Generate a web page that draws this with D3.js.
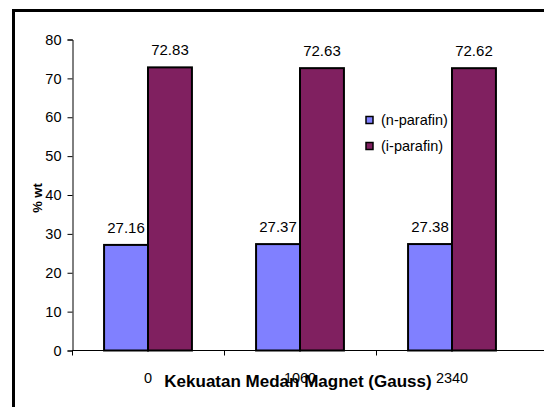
<!DOCTYPE html>
<html><head><meta charset="utf-8">
<script src="https://cdn.jsdelivr.net/npm/d3@7"></script>
<style>html,body{margin:0;padding:0;background:#fff;overflow:hidden}svg{display:block}</style>
</head><body>
<svg id="c" width="544" height="407"></svg>
<script>
const categories = ["0", "1060", "2340"];
const seriesNames = ["(n-parafin)", "(i-parafin)"];
const nParafin = [27.16, 27.37, 27.38];
const iParafin = [72.83, 72.63, 72.62];
const yTicks = [0, 10, 20, 30, 40, 50, 60, 70, 80];
const colors = ["#8080FF", "#802060"];
const series = [nParafin, iParafin];

const svg = d3.select("#c");
const font = "Arial, 'Liberation Sans', sans-serif";

// chart border (cropped)
svg.append("rect").attr("x", 13.5).attr("y", 10.5).attr("width", 700).attr("height", 600)
  .attr("fill", "#fff").attr("stroke", "#000").attr("stroke-width", 3);

const x = d3.scaleBand().domain(categories).range([72, 528]).paddingInner(0).paddingOuter(0);
const y = d3.scaleLinear().domain([0, 80]).range([350.5, 39.5]);
const xs = d3.scaleBand().domain(d3.range(series.length)).range([0, x.bandwidth()]).paddingInner(0).paddingOuter(0.73);

// bars
series.forEach((vals, si) => {
  const g = svg.append("g");
  g.selectAll("rect").data(vals).join("rect")
    .attr("x", (d, i) => x(categories[i]) + xs(si))
    .attr("y", d => y(d))
    .attr("width", xs.bandwidth())
    .attr("height", d => y(0) - y(d))
    .attr("fill", colors[si]).attr("stroke", "#000").attr("stroke-width", 2);
  g.selectAll("text").data(vals).join("text")
    .attr("x", (d, i) => x(categories[i]) + xs(si) + xs.bandwidth() / 2)
    .attr("y", d => y(d) - 12)
    .attr("text-anchor", "middle").attr("font-family", font).attr("font-size", 15)
    .attr("fill", "#000").text(d => d.toFixed(2));
});

// y axis
const ya = svg.append("g").attr("transform", "translate(72.5,0)")
  .call(d3.axisLeft(y).tickValues(yTicks).tickSize(5).tickPadding(6).tickFormat(d3.format("d")));
ya.select(".domain").attr("stroke", "#000");
ya.selectAll("text").attr("font-family", font).attr("font-size", 14.5).attr("fill", "#000");

// x axis
const xa = svg.append("g").attr("transform", "translate(0,350.5)")
  .call(d3.axisBottom(x).tickSize(0).tickPadding(22));
xa.select(".domain").attr("stroke", "#000").attr("d", "M72,0H560");
xa.selectAll("text").attr("font-family", font).attr("font-size", 14.5).attr("fill", "#000");
// boundary ticks between categories
const edges = categories.map(c => x(c));
svg.append("g").selectAll("line").data(edges).join("line")
  .attr("x1", d => Math.round(d) + 0.5).attr("x2", d => Math.round(d) + 0.5)
  .attr("y1", 350.5).attr("y2", 355.5).attr("stroke", "#000");

// axis titles
svg.append("text").attr("x", 298).attr("y", 387).attr("text-anchor", "middle")
  .attr("font-family", font).attr("font-weight", "bold").attr("font-size", 17)
  .text("Kekuatan Medan Magnet (Gauss)");
svg.append("text").attr("transform", "translate(42,198) rotate(-90)").attr("text-anchor", "middle")
  .attr("font-family", font).attr("font-weight", "bold").attr("font-size", 13).text("% wt");

// legend
const lg = svg.append("g");
seriesNames.forEach((name, i) => {
  const cy = 120 + i * 26;
  lg.append("rect").attr("x", 366).attr("y", cy - 3.5).attr("width", 7).attr("height", 7)
    .attr("fill", colors[i]).attr("stroke", "#000").attr("stroke-width", 1.5);
  lg.append("text").attr("x", 381).attr("y", cy + 5.2)
    .attr("font-family", font).attr("font-size", 14.5).text(name);
});
</script>
</body></html>
